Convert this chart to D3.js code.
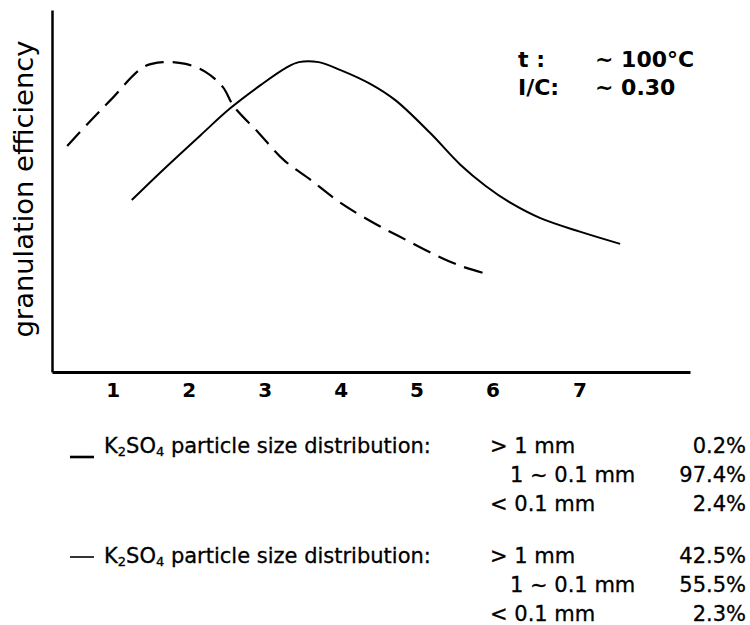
<!DOCTYPE html>
<html>
<head>
<meta charset="utf-8">
<script src="https://cdn.jsdelivr.net/npm/d3@7"></script>
<style>
  body { margin: 0; background: #fff; }
  svg { display: block; }
  text { font-family: "DejaVu Sans", "Liberation Sans", Arial, sans-serif; fill: #000; }
</style>
</head>
<body>
<div class="container"></div>
<script>
// particle size values along the x axis, and granulation efficiency (arbitrary units)
var xTicks = [1, 2, 3, 4, 5, 6, 7]

var solidX = [1.25, 1.63, 2.16, 2.55, 2.95, 3.28, 3.45, 3.71, 4.0, 4.39, 4.72, 5.18, 5.58, 5.91, 6.24, 6.63, 7.16, 7.68]
var solidY = [47.5, 55.2, 65.5, 72.9, 79.3, 84.0, 85.6, 85.6, 83.4, 79.6, 75.1, 66.0, 57.2, 51.4, 46.7, 42.5, 38.7, 35.4]

var dashedX = [0.4, 0.68, 0.97, 1.41, 1.67, 1.96, 2.22, 2.45, 2.59, 2.91, 3.25, 3.61, 4.0, 4.46, 4.86, 5.25, 5.58, 5.89]
var dashedY = [62.4, 68.8, 75.1, 84.3, 85.6, 85.1, 82.9, 78.7, 73.5, 66.3, 58.6, 53.0, 46.7, 40.9, 36.5, 32.3, 29.3, 27.3]

var conditionLabels = ['t :', 'I/C:']
var conditionValues = ['~ 100°C', '~ 0.30']

var sizeClasses = ['> 1 mm', '1 ~ 0.1 mm', '< 0.1 mm']
var solidShares = ['0.2%', '97.4%', '2.4%']
var dashedShares = ['42.5%', '55.5%', '2.3%']

var width = 750, height = 625

var svg = d3.select('.container').append('svg')
  .attr('width', width)
  .attr('height', height)

var x = d3.scaleLinear().domain([0.2, 8.6]).range([52, 690])
var y = d3.scaleLinear().domain([0, 100]).range([372, 10])

// axes: plain lines, numbers only on x
var xAxis = svg.append('g')
  .attr('transform', 'translate(0,' + y(0) + ')')
  .call(d3.axisBottom(x).tickValues(xTicks).tickSize(0).tickPadding(0).tickFormat(d3.format('d')))
xAxis.select('.domain').attr('stroke', '#000').attr('stroke-width', 3)
xAxis.selectAll('.tick text')
  .attr('y', 0)
  .attr('dy', 0)
  // the scanned "7" sits a little right of a linear position
  .attr('transform', d => 'translate(' + (d == 7 ? 11 : 0) + ',25)')
  .style('font-family', '"DejaVu Sans", sans-serif')
  .style('font-size', '20px')
  .style('font-weight', 'bold')

var yAxis = svg.append('g')
  .attr('transform', 'translate(' + x(0.2) + ',0)')
  .call(d3.axisLeft(y).tickValues([]).tickSize(0))
yAxis.select('.domain').attr('stroke', '#000').attr('stroke-width', 2.5)

svg.append('text')
  .attr('transform', 'translate(33,189) rotate(-90)')
  .attr('text-anchor', 'middle')
  .attr('textLength', 297)
  .attr('lengthAdjust', 'spacingAndGlyphs')
  .style('font-size', '26px')
  .text('granulation efficiency')

var line = d3.line()
  .x(d => x(d[0]))
  .y(d => y(d[1]))
  .curve(d3.curveCatmullRom)

svg.append('path')
  .datum(d3.zip(solidX, solidY))
  .attr('d', line)
  .attr('fill', 'none')
  .attr('stroke', '#000')
  .attr('stroke-width', 2)

svg.append('path')
  .datum(d3.zip(dashedX, dashedY))
  .attr('d', line)
  .attr('fill', 'none')
  .attr('stroke', '#000')
  .attr('stroke-width', 2.2)
  .attr('stroke-dasharray', '19,9')

// process conditions, top right
var cond = svg.append('g').style('font-size', '22px').style('font-weight', 'bold')
cond.selectAll('text.lab').data(conditionLabels).join('text')
  .attr('class', 'lab')
  .attr('x', 518)
  .attr('y', (d, i) => 67 + i * 28)
  .text(d => d)
cond.selectAll('text.val').data(conditionValues).join('text')
  .attr('class', 'val')
  .attr('x', 595)
  .attr('y', (d, i) => 67 + i * 28)
  .text(d => d)

// legend blocks
function legendBlock(top, shares, dashed){
  var g = svg.append('g')
    .attr('transform', 'translate(0,' + top + ')')
    .style('font-size', '21px')
    .style('stroke', '#000')
    .style('stroke-width', 0.3)

  g.append('line')
    .attr('x1', 70).attr('x2', 94)
    .attr('y1', dashed ? -6 : 4).attr('y2', dashed ? -6 : 4)
    .attr('stroke', '#000').attr('stroke-width', dashed ? 1.6 : 2.6)

  var t = g.append('text').attr('x', 104).attr('y', 0)
  t.append('tspan').text('K')
  t.append('tspan').text('2').style('font-size', '13px').attr('dy', 3)
  t.append('tspan').text('SO').attr('dy', -3)
  t.append('tspan').text('4').style('font-size', '13px').attr('dy', 3)
  t.append('tspan').text(' particle size distribution:').attr('dy', -3)

  g.selectAll('text.cls').data(sizeClasses).join('text')
    .attr('class', 'cls')
    .attr('x', (d, i) => i == 1 ? 510 : 490)
    .attr('y', (d, i) => i * 29)
    .text(d => d)

  g.selectAll('text.share').data(shares).join('text')
    .attr('class', 'share')
    .attr('x', 746)
    .attr('text-anchor', 'end')
    .attr('y', (d, i) => i * 29)
    .text(d => d)
}
legendBlock(453, solidShares, false)
legendBlock(563, dashedShares, true)
</script>
</body>
</html>
